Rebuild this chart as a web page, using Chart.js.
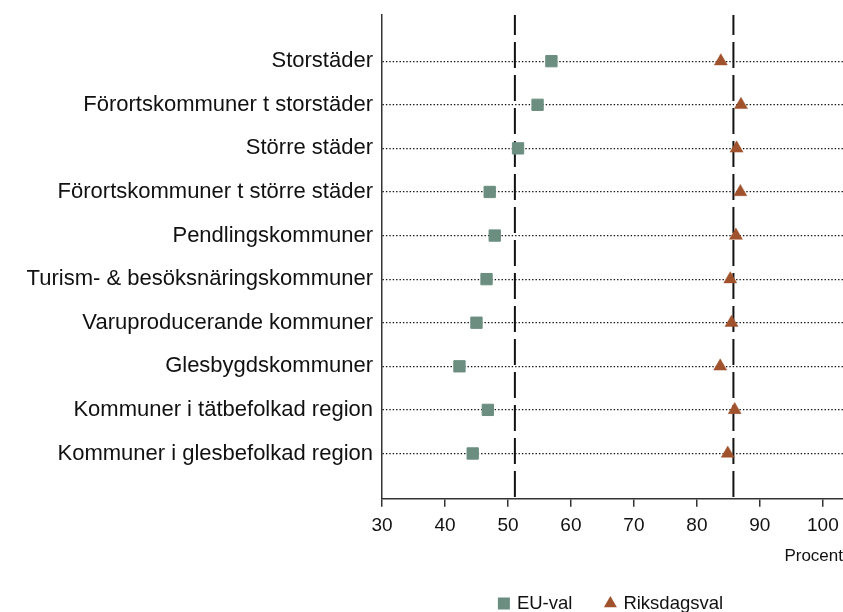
<!DOCTYPE html>
<html>
<head>
<meta charset="utf-8">
<script src="https://cdn.jsdelivr.net/npm/chart.js@4.4.1/dist/chart.umd.min.js"></script>
<style>
    body { margin: 0; background: #fff; }
    #wrap { width: 843px; height: 612px; }
</style>
</head>
<body>
<div id="wrap"><canvas id="turnoutChart"></canvas></div>
<script>
// Kommungrupper (top to bottom)
const categories = [
    'Storstäder',
    'Förortskommuner t storstäder',
    'Större städer',
    'Förortskommuner t större städer',
    'Pendlingskommuner',
    'Turism- & besöksnäringskommuner',
    'Varuproducerande kommuner',
    'Glesbygdskommuner',
    'Kommuner i tätbefolkad region',
    'Kommuner i glesbefolkad region'
];
const seriesNames = ['EU-val', 'Riksdagsval'];
const euVal = [56.9, 54.7, 51.6, 47.1, 47.9, 46.6, 45.0, 42.3, 46.8, 44.4];
const riksdagsval = [83.8, 87.0, 86.3, 86.9, 86.2, 85.3, 85.5, 83.7, 86.0, 84.9];
// national averages (dashed lines)
const nationalAvg = [51.1, 85.8];
const xTicks = [30, 40, 50, 60, 70, 80, 90, 100];
const xTitle = 'Procent';

const euColor = '#6b8e80';
const riksColor = '#a0522d';
const axisColor = '#333333';
const fontFamily = "'Liberation Sans', Arial, sans-serif";

const yMin = -1.06;
const yMax = categories.length - 1 + 1.04;

const refLineSets = nationalAvg.map(v => ({
    type: 'line',
    data: [{ x: v, y: yMin }, { x: v, y: yMax }],
    borderColor: '#111',
    borderWidth: 2,
    borderDash: [26, 7],
    borderDashOffset: 6,
    pointRadius: 0,
    order: 3
}));

// custom legend, centred under the plot area
const bottomLegend = {
    id: 'bottomLegend',
    afterDraw(chart) {
        const ctx = chart.ctx;
        const area = chart.chartArea;
        ctx.save();
        ctx.font = '18.5px ' + fontFamily;
        ctx.textBaseline = 'middle';
        const markerW = 12, gap = 7, spacing = 32;
        const widths = seriesNames.map(n => markerW + gap + ctx.measureText(n).width);
        const total = widths.reduce((a, b) => a + b, 0) + spacing * (widths.length - 1);
        let x = (area.left + area.right) / 2 - total / 2 - 2;
        const y = chart.height - 8.5;
        seriesNames.forEach((name, i) => {
            const cx = x + markerW / 2;
            if (i === 0) {
                ctx.fillStyle = euColor;
                ctx.fillRect(cx - 6, y - 6, 12, 12);
            } else {
                ctx.fillStyle = riksColor;
                ctx.beginPath();
                ctx.moveTo(cx, y - 7.5);
                ctx.lineTo(cx + 6.5, y + 3.8);
                ctx.lineTo(cx - 6.5, y + 3.8);
                ctx.closePath();
                ctx.fill();
            }
            ctx.fillStyle = '#111';
            ctx.fillText(name, x + markerW + gap, y);
            x += widths[i] + spacing;
        });
        ctx.restore();
    }
};

const ctx = document.getElementById('turnoutChart').getContext('2d');
new Chart(ctx, {
    type: 'scatter',
    data: {
        datasets: [
            {
                label: seriesNames[0],
                data: euVal.map((v, i) => ({ x: v, y: i })),
                pointStyle: 'rect',
                pointRadius: 8,
                pointBackgroundColor: euColor,
                pointBorderColor: euColor,
                pointBorderWidth: 1,
                order: 1
            },
            {
                label: seriesNames[1],
                data: riksdagsval.map((v, i) => ({ x: v, y: i })),
                pointStyle: 'triangle',
                pointRadius: 7.5,
                pointBackgroundColor: riksColor,
                pointBorderColor: riksColor,
                pointBorderWidth: 0.5,
                order: 1
            },
            ...refLineSets
        ]
    },
    options: {
        responsive: true,
        maintainAspectRatio: false,
        animation: false,
        layout: { autoPadding: false, padding: { top: 15, right: 0, left: 0, bottom: 45 } },
        plugins: {
            legend: { display: false },
            tooltip: { enabled: false }
        },
        scales: {
            x: {
                type: 'linear',
                min: 30,
                max: 103.2,
                afterBuildTicks: axis => { axis.ticks = xTicks.map(v => ({ value: v })); },
                afterFit: axis => { axis.paddingLeft = 0; axis.paddingRight = 0; },
                ticks: {
                    color: '#111',
                    padding: 8,
                    maxRotation: 0,
                    font: { family: fontFamily, size: 19 }
                },
                grid: {
                    drawOnChartArea: false,
                    drawTicks: true,
                    tickLength: 8,
                    color: axisColor,
                    lineWidth: 1.5
                },
                border: { color: axisColor, width: 1.5 },
                title: {
                    display: true,
                    text: xTitle,
                    align: 'end',
                    color: '#111',
                    padding: { top: 1, bottom: 0 },
                    font: { family: fontFamily, size: 17 }
                }
            },
            y: {
                type: 'linear',
                reverse: true,
                min: yMin,
                max: yMax,
                afterBuildTicks: axis => { axis.ticks = categories.map((c, i) => ({ value: i })); },
                afterFit: axis => { axis.width = 382; axis.paddingTop = 0; axis.paddingBottom = 0; },
                ticks: {
                    color: '#111',
                    padding: 9,
                    autoSkip: false,
                    font: { family: fontFamily, size: 22 },
                    callback: v => categories[v]
                },
                grid: {
                    drawTicks: false,
                    color: '#111',
                    lineWidth: 1.2
                },
                border: { color: axisColor, width: 1.5, dash: [1.4, 2] }
            }
        }
    },
    plugins: [bottomLegend]
});
</script>
</body>
</html>
